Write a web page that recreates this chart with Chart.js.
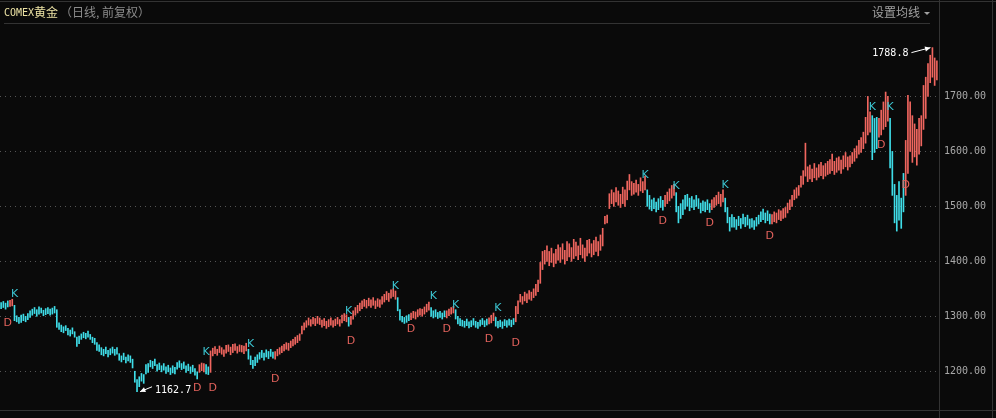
<!DOCTYPE html>
<html>
<head>
<meta charset="utf-8">
<script src="https://cdn.jsdelivr.net/npm/chart.js@4.4.0/dist/chart.umd.min.js"></script>
<style>
  html, body { margin: 0; padding: 0; background: #0a0a0a; }
  #wrap { position: relative; width: 996px; height: 418px; }
</style>
</head>
<body>
<div id="wrap"><canvas id="gold"></canvas></div>
<script>
//=============================================== DATA ========================================
// daily bars, low / high (COMEX gold)
var lows = [
  1314,1316,1313,1317,1318,1319,1292,1290,1287,1289, 1292,1290,1294,1298,1302,1305,1300,1304,1306,1301,
  1303,1305,1302,1304,1306,1280,1276,1272,1270,1274, 1266,1264,1268,1262,1245,1250,1258,1261,1259,1262,
  1258,1252,1249,1238,1236,1230,1228,1232,1226,1230, 1233,1229,1231,1220,1217,1221,1215,1219,1216,1206,
  1180,1162.7,1172,1182,1178,1195,1198,1208,1205,1210, 1200,1203,1199,1202,1196,1199,1194,1197,1195,1204,
  1207,1203,1205,1198,1201,1196,1199,1193,1186,1198, 1201,1199,1195,1194,1198,1228,1232,1229,1234,1231,
  1227,1233,1236,1230,1234,1238,1233,1236,1235,1232, 1237,1222,1212,1205,1210,1216,1222,1225,1220,1226,
  1223,1227,1224,1222,1228,1231,1234,1237,1240,1238, 1243,1246,1249,1252,1256,1268,1275,1280,1284,1282,
  1286,1283,1287,1285,1280,1283,1278,1281,1284,1280, 1283,1286,1282,1288,1292,1290,1282,1285,1295,1302,
  1306,1310,1314,1318,1315,1319,1316,1320,1314,1318, 1316,1322,1326,1330,1327,1333,1336,1331,1310,1293,
  1290,1287,1289,1292,1294,1297,1295,1299,1302,1300, 1304,1308,1311,1300,1297,1299,1296,1298,1295,1299,
  1297,1301,1304,1306,1295,1286,1283,1282,1280,1283, 1279,1281,1284,1280,1278,1282,1285,1281,1284,1286,
  1288,1292,1282,1279,1281,1278,1283,1280,1284,1281, 1285,1290,1305,1326,1322,1328,1325,1331,1329,1334,
  1338,1345,1360,1385,1395,1400,1392,1398,1390,1396, 1402,1398,1404,1395,1401,1408,1400,1405,1410,1403,
  1412,1406,1400,1410,1415,1408,1412,1418,1410,1420, 1428,1468,1470,1496,1505,1500,1508,1502,1498,1505,
  1500,1512,1530,1520,1522,1526,1520,1528,1525,1530, 1500,1495,1492,1496,1490,1494,1498,1493,1500,1505,
  1510,1515,1520,1490,1470,1478,1485,1495,1500,1492, 1498,1494,1500,1496,1488,1492,1490,1494,1489,1494,
  1498,1502,1505,1500,1508,1490,1470,1455,1462,1462, 1458,1465,1460,1468,1463,1466,1460,1462,1458,1464,
  1468,1472,1476,1470,1474,1468,1468,1472,1470,1476, 1474,1478,1480,1488,1494,1500,1512,1515,1520,1535,
  1540,1555,1545,1550,1545,1552,1548,1553,1556,1550, 1555,1558,1560,1565,1558,1562,1566,1560,1568,1572,
  1566,1572,1578,1582,1588,1595,1598,1605,1615,1630, 1635,1585,1598,1605,1626,1630,1640,1645,1655,1570,
  1520,1470,1455,1475,1460,1490,1520,1560,1600,1580, 1590,1575,1595,1610,1640,1660,1700,1725,1735,1720,
  1730
];
var highs = [
  1325,1327,1324,1328,1329,1331,1320,1301,1298,1302, 1304,1300,1305,1310,1313,1316,1312,1317,1315,1311,
  1314,1316,1313,1315,1318,1312,1288,1284,1281,1283, 1278,1275,1279,1272,1262,1264,1268,1271,1269,1273,
  1267,1262,1260,1252,1248,1243,1240,1244,1238,1241, 1244,1240,1243,1232,1228,1233,1226,1230,1228,1222,
  1200,1185,1190,1196,1194,1212,1214,1220,1218,1222, 1212,1215,1210,1214,1208,1211,1206,1210,1207,1216,
  1219,1214,1217,1210,1213,1208,1211,1205,1199,1212, 1215,1214,1212,1208,1237,1242,1245,1240,1246,1243,
  1239,1247,1248,1244,1249,1250,1245,1248,1247,1246, 1251,1240,1228,1220,1226,1230,1234,1238,1233,1239,
  1236,1240,1235,1236,1240,1243,1246,1249,1252,1251, 1255,1258,1262,1265,1268,1282,1288,1292,1297,1294,
  1298,1296,1300,1297,1293,1296,1291,1294,1297,1292, 1295,1298,1294,1302,1305,1303,1298,1300,1310,1316,
  1320,1324,1328,1331,1329,1333,1330,1334,1328,1332, 1330,1336,1340,1345,1342,1348,1350,1346,1334,1312,
  1300,1298,1301,1303,1306,1309,1308,1312,1314,1313, 1317,1322,1326,1316,1310,1312,1307,1309,1306,1310,
  1310,1313,1316,1318,1312,1300,1296,1293,1291,1295, 1290,1292,1296,1291,1289,1293,1296,1292,1295,1297,
  1302,1306,1298,1291,1293,1290,1294,1292,1295,1293, 1296,1318,1328,1340,1336,1344,1341,1347,1344,1350,
  1358,1366,1398,1418,1420,1428,1418,1424,1414,1422, 1430,1425,1432,1420,1436,1432,1425,1440,1435,1428,
  1442,1430,1424,1438,1440,1432,1438,1444,1436,1448, 1460,1482,1484,1523,1530,1525,1534,1528,1522,1535,
  1530,1546,1558,1545,1542,1548,1540,1552,1545,1555, 1530,1520,1512,1515,1508,1514,1518,1511,1520,1526,
  1532,1538,1540,1525,1500,1505,1512,1520,1522,1515, 1518,1512,1520,1514,1506,1510,1508,1512,1505,1512,
  1516,1520,1526,1522,1530,1515,1498,1480,1485,1480, 1476,1482,1478,1486,1480,1484,1477,1478,1474,1480,
  1484,1490,1495,1488,1492,1486,1485,1490,1488,1494, 1492,1496,1498,1506,1512,1520,1530,1534,1538,1555,
  1565,1615,1572,1575,1568,1578,1570,1576,1580,1574, 1578,1582,1585,1595,1582,1588,1590,1584,1592,1598,
  1590,1592,1598,1605,1610,1620,1625,1635,1662,1700, 1672,1665,1660,1662,1660,1675,1690,1708,1700,1660,
  1600,1540,1520,1545,1515,1560,1620,1702,1690,1665, 1650,1640,1660,1665,1720,1735,1760,1775,1788.8,1770,
  1765
];
// trend state runs: r = red (up), c = cyan (down)
var trendRuns = [
  ['c', 4], ['r', 2], ['c', 83], ['r', 3], ['c', 2], ['r', 17], ['c', 12], ['r', 33], ['c', 1], ['r', 21],
  ['c', 6], ['r', 9], ['c', 7], ['r', 4], ['c', 15], ['r', 3], ['c', 9], ['r', 59], ['c', 8], ['r', 5],
  ['c', 16], ['r', 6], ['c', 21], ['r', 45], ['c', 3], ['r', 5], ['c', 7], ['r', 15]
];
// K / D signal marks (bar index, price level of the letter)
var kIdx   = [6, 92, 112, 156, 177, 194, 204, 223, 289, 303, 325, 391, 399];
var kPrice = [1341, 1234, 1250, 1310, 1355, 1337, 1321, 1315, 1556, 1536, 1539, 1680, 1680];
var dIdx   = [3, 88, 95, 123, 157, 184, 200, 219, 231, 297, 318, 345, 395, 406];
var dPrice = [1288, 1169, 1169, 1186, 1254, 1276, 1276, 1258, 1252, 1474, 1469, 1446, 1612, 1539];
var yTicks = [1200, 1300, 1400, 1500, 1600, 1700];
var days = lows.map(function (v, i) { return i + 1; });

var RED = '#f0665f';
var CYAN = '#3fdde8';

var barColors = [];
trendRuns.forEach(function (r) {
  for (var n = 0; n < r[1]; n++) barColors.push(r[0] === 'r' ? RED : CYAN);
});

//=============================================== OVERLAY ========================================
function arrow(ctx, x1, y1, x2, y2) {
  ctx.beginPath();
  ctx.moveTo(x1, y1);
  ctx.lineTo(x2, y2);
  ctx.stroke();
  var a = Math.atan2(y2 - y1, x2 - x1);
  ctx.beginPath();
  ctx.moveTo(x2, y2);
  ctx.lineTo(x2 - 6 * Math.cos(a - 0.45), y2 - 6 * Math.sin(a - 0.45));
  ctx.lineTo(x2 - 6 * Math.cos(a + 0.45), y2 - 6 * Math.sin(a + 0.45));
  ctx.closePath();
  ctx.fill();
}

var overlay = {
  id: 'overlay',
  beforeDraw: function (chart) {
    var ctx = chart.ctx;
    ctx.save();
    ctx.fillStyle = '#0a0a0a';
    ctx.fillRect(0, 0, chart.width, chart.height);
    ctx.restore();
  },
  afterDraw: function (chart) {
    var ctx = chart.ctx, xs = chart.scales.x, ys = chart.scales.y;
    ctx.save();

    // K / D letters
    ctx.font = '11px "DejaVu Sans"';
    ctx.textAlign = 'center';
    ctx.textBaseline = 'middle';
    ctx.fillStyle = '#3cc6d2';
    kIdx.forEach(function (i, n) {
      ctx.fillText('K', xs.getPixelForValue(i), ys.getPixelForValue(kPrice[n]));
    });
    ctx.fillStyle = '#e2625c';
    dIdx.forEach(function (i, n) {
      ctx.fillText('D', xs.getPixelForValue(i), ys.getPixelForValue(dPrice[n]));
    });

    // highest / lowest
    var hi = Math.max.apply(null, highs), lo = Math.min.apply(null, lows);
    var hx = xs.getPixelForValue(highs.indexOf(hi)), hy = ys.getPixelForValue(hi);
    var lx = xs.getPixelForValue(lows.indexOf(lo)), ly = ys.getPixelForValue(lo);
    ctx.strokeStyle = '#ffffff';
    ctx.fillStyle = '#ffffff';
    ctx.lineWidth = 1;
    arrow(ctx, hx - 21, hy + 5, hx - 2, hy);
    arrow(ctx, lx + 15, ly - 5, lx + 3, ly);
    ctx.font = '10px "DejaVu Sans Mono"';
    ctx.textBaseline = 'middle';
    ctx.textAlign = 'right';
    ctx.fillText(hi.toFixed(1), hx - 24, hy + 6);
    ctx.textAlign = 'left';
    ctx.fillText(lo.toFixed(1), lx + 18, ly - 1);

    // frame lines
    ctx.strokeStyle = '#333333';
    ctx.beginPath();
    ctx.moveTo(0, 1.5); ctx.lineTo(996, 1.5);
    ctx.moveTo(4, 23.5); ctx.lineTo(930, 23.5);
    ctx.moveTo(939.5, 0); ctx.lineTo(939.5, 418);
    ctx.moveTo(992.5, 0); ctx.lineTo(992.5, 418);
    ctx.moveTo(0, 410.5); ctx.lineTo(996, 410.5);
    ctx.stroke();

    // header
    ctx.textAlign = 'left';
    ctx.textBaseline = 'middle';
    ctx.fillStyle = '#ece2a4';
    ctx.font = '10px "DejaVu Sans Mono"';
    ctx.fillText('COMEX', 4, 13);
    ctx.font = '12px "Noto Sans CJK SC"';
    ctx.fillText('黄金', 34, 12);
    ctx.fillStyle = '#8c8c8c';
    ctx.fillText('（日线, 前复权）', 60, 12);
    ctx.fillStyle = '#a0a0a0';
    ctx.fillText('设置均线', 872, 12);
    ctx.beginPath();
    ctx.moveTo(924, 12); ctx.lineTo(930, 12); ctx.lineTo(927, 15);
    ctx.closePath();
    ctx.fill();
    ctx.restore();
  }
};

//=============================================== CHART ========================================
var ctx1 = document.getElementById('gold');
var gold = new Chart(ctx1, {
  type: 'bar',
  data: {
    labels: days,
    datasets: [{
      label: 'COMEX黄金',
      data: lows.map(function (l, i) { return [l, highs[i]]; }),
      backgroundColor: barColors,
      borderWidth: 0,
      barThickness: 1
    }]
  },
  options: {
    responsive: true,
    maintainAspectRatio: false,
    animation: false,
    layout: { padding: { top: 24, bottom: 9, left: 0, right: 0 } },
    plugins: { legend: { display: false }, tooltip: { enabled: false } },
    scales: {
      x: { type: 'category', display: false, offset: true, grid: { display: false } },
      y: {
        position: 'right',
        min: 1136.8,
        max: 1831.8,
        afterFit: function (s) { s.width = 58; },
        afterBuildTicks: function (s) { s.ticks = yTicks.map(function (v) { return { value: v }; }); },
        grid: { color: '#555555', drawTicks: false },
        border: { display: false, dash: [1, 4] },
        ticks: {
          color: '#a8a8a8',
          padding: 6,
          font: { family: 'DejaVu Sans Mono', size: 10 },
          callback: function (v) { return Number(v).toFixed(2); }
        }
      }
    }
  },
  plugins: [overlay]
});
</script>
</body>
</html>
